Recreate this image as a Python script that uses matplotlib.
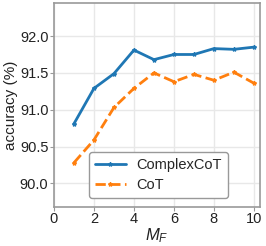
import matplotlib.pyplot as plt
import seaborn as sns

plt.switch_backend('Agg')

# datos
m_f = [1, 2, 3, 4, 5, 6, 7, 8, 9, 10]
complex_cot = [90.81, 91.29, 91.49, 91.81, 91.68, 91.75, 91.75, 91.83, 91.82, 91.85]
cot = [90.28, 90.59, 91.03, 91.29, 91.50, 91.38, 91.48, 91.40, 91.51, 91.36]

sns.set_style('whitegrid')
plt.rcParams['font.family'] = ['Liberation Sans', 'DejaVu Sans']
plt.rcParams['mathtext.fontset'] = 'custom'
plt.rcParams['mathtext.it'] = 'Liberation Sans:italic'
plt.rcParams['mathtext.rm'] = 'Liberation Sans'

fig, ax = plt.subplots(figsize=(2.66, 2.46), dpi=100)

ax.plot(m_f, complex_cot, '-', marker='*', markersize=3, linewidth=2,
        color='#1f77b4', label='ComplexCoT')
ax.plot(m_f, cot, '--', marker='*', markersize=3, linewidth=2,
        color='#ff7f0e', label='CoT')

ax.set_xlim(0, 10.3)
ax.set_ylim(89.68, 92.45)
ax.set_xticks([0, 2, 4, 6, 8, 10])
ax.set_yticks([90.0, 90.5, 91.0, 91.5, 92.0])
ax.tick_params(labelsize=10.5, pad=1, length=3, color='#999999', labelcolor='#222222')
ax.tick_params(axis='both', which='major', bottom=True, left=True)
ax.set_xlabel('$M_F$', fontsize=12, labelpad=0, color='#222222')
ax.set_ylabel('accuracy (%)', fontsize=11, labelpad=1, color='#222222')
for s in ax.spines.values():
    s.set_color('#999999')
    s.set_linewidth(1.2)
ax.grid(True, color='#e8e8e8', linewidth=1)

ax.legend(loc='lower right', bbox_to_anchor=(0.845, 0.044), borderaxespad=0,
          fontsize=10.5, frameon=True, edgecolor='#999999', fancybox=True,
          framealpha=1, handlelength=2.1, labelspacing=0.4, borderpad=0.4,
          handletextpad=0.75)

fig.subplots_adjust(left=0.203, right=0.977, top=0.988, bottom=0.159)
fig.savefig('out.png', dpi=100)
plt.close()
